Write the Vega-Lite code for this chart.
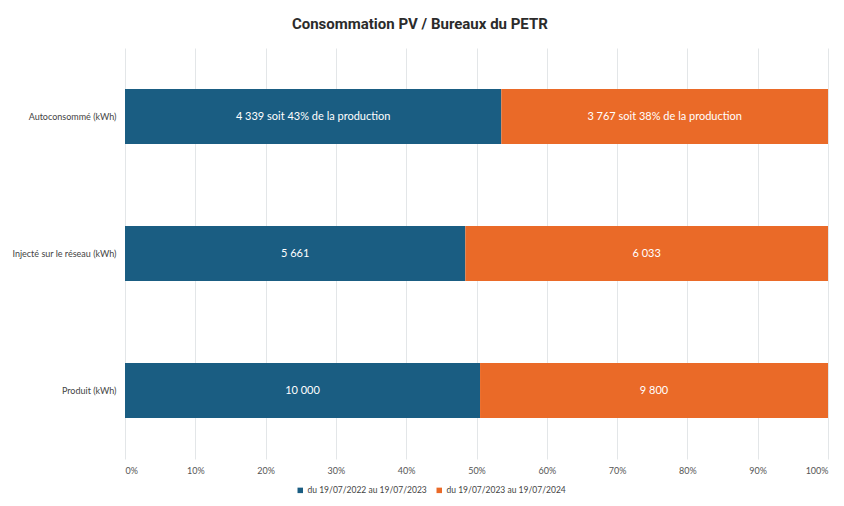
{
  "$schema": "https://vega.github.io/schema/vega-lite/v6.json",
  "width": 703,
  "height": 411,
  "autosize": "none",
  "padding": {"left": 125, "top": 48, "right": 16, "bottom": 47},
  "background": "white",
  "config": {"view": {"stroke": null}, "font": "Lato"},
  "title": {
    "text": "Consommation PV / Bureaux du PETR",
    "font": "Roboto",
    "fontSize": 15,
    "fontWeight": "bold",
    "color": "#2b2b2b",
    "frame": "bounds",
    "anchor": "middle",
    "offset": 16
  },
  "data": {
    "values": [
      {"cat": "Autoconsommé (kWh)", "period": "du 19/07/2022 au 19/07/2023", "value": 4339, "label": "4 339 soit 43% de la production"},
      {"cat": "Autoconsommé (kWh)", "period": "du 19/07/2023 au 19/07/2024", "value": 3767, "label": "3 767 soit 38% de la production"},
      {"cat": "Injecté sur le réseau (kWh)", "period": "du 19/07/2022 au 19/07/2023", "value": 5661, "label": "5 661"},
      {"cat": "Injecté sur le réseau (kWh)", "period": "du 19/07/2023 au 19/07/2024", "value": 6033, "label": "6 033"},
      {"cat": "Produit (kWh)", "period": "du 19/07/2022 au 19/07/2023", "value": 10000, "label": "10 000"},
      {"cat": "Produit (kWh)", "period": "du 19/07/2023 au 19/07/2024", "value": 9800, "label": "9 800"}
    ]
  },
  "transform": [
    {"stack": "value", "groupby": ["cat"], "as": ["x0", "x1"], "offset": "normalize", "sort": [{"field": "period", "order": "ascending"}]},
    {"calculate": "(datum.x0 + datum.x1) / 2", "as": "xmid"}
  ],
  "encoding": {
    "y": {
      "field": "cat",
      "type": "nominal",
      "sort": ["Autoconsommé (kWh)", "Injecté sur le réseau (kWh)", "Produit (kWh)"],
      "scale": {"paddingInner": 0.6, "paddingOuter": 0.3},
      "axis": {"title": null, "ticks": false, "domain": false, "labelFontSize": 9, "labelColor": "#444444", "labelPadding": 9, "labelFont": "Lato"}
    }
  },
  "layer": [
    {
      "mark": {"type": "bar"},
      "encoding": {
        "x": {
          "field": "x0",
          "type": "quantitative",
          "scale": {"domain": [0, 1]},
          "axis": {"title": null, "format": "%", "values": [0, 0.1, 0.2, 0.3, 0.4, 0.5, 0.6, 0.7, 0.8, 0.9, 1], "grid": true, "gridColor": "#e3e6e8", "domain": false, "ticks": false, "labelFontSize": 9, "labelColor": "#555555", "labelPadding": 7, "labelFont": "Lato"}
        },
        "x2": {"field": "x1"},
        "color": {
          "field": "period",
          "type": "nominal",
          "scale": {"domain": ["du 19/07/2022 au 19/07/2023", "du 19/07/2023 au 19/07/2024"], "range": ["#1a5d82", "#ea6a28"]},
          "legend": {"title": null, "orient": "none", "legendX": 171, "legendY": 438, "direction": "horizontal", "symbolType": "square", "symbolSize": 30, "symbolOffset": 0, "labelOffset": 3, "labelFontSize": 8.5, "labelColor": "#444444", "columnPadding": 8, "labelFont": "Lato"}
        }
      }
    },
    {
      "mark": {"type": "text", "color": "white", "fontSize": 11, "font": "Lato"},
      "encoding": {
        "x": {"field": "xmid", "type": "quantitative"},
        "text": {"field": "label"}
      }
    }
  ]
}
